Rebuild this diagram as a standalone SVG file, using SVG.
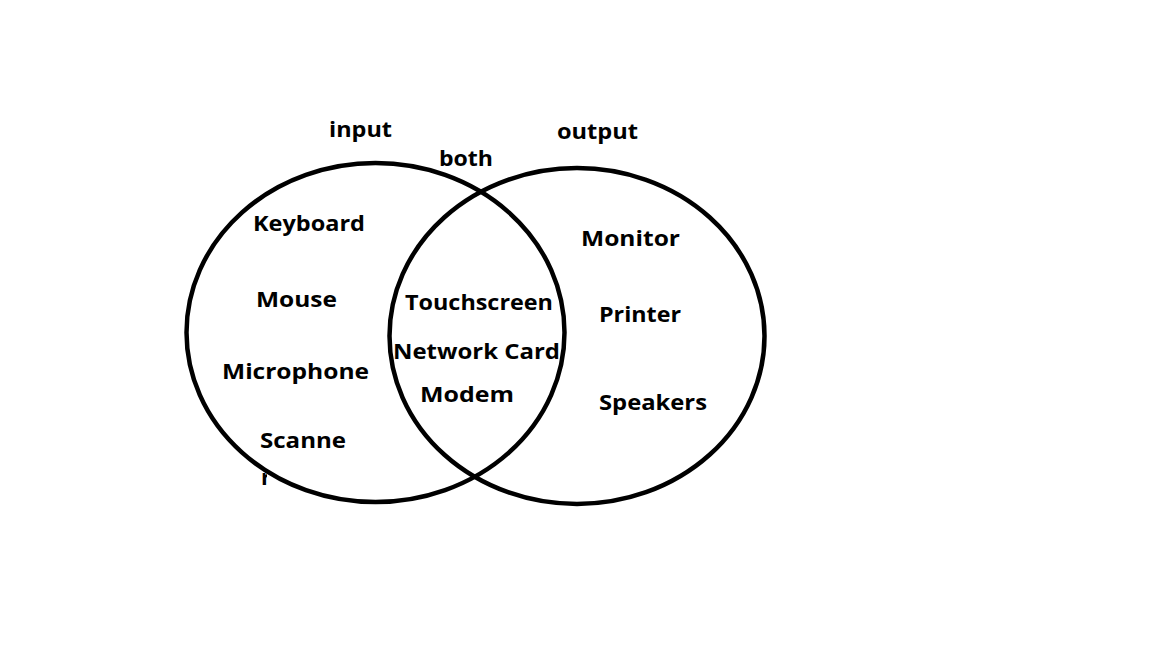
<svg xmlns="http://www.w3.org/2000/svg" width="1152" height="648" viewBox="0 0 1152 648">
<style>
  .lbl { font-family: "Open Sans", "Noto Sans", "Liberation Sans", sans-serif; font-weight: bold; font-size: 22px; fill: #000; }
  .set { fill: none; stroke: #000; stroke-width: 4.5; }
</style>
<defs>
  <clipPath id="rclip"><rect x="255" y="460" width="12" height="40"/></clipPath>
</defs>
<rect width="1152" height="648" fill="#fff"/>
<g id="labels">
  <text class="lbl" x="329" y="137" textLength="63" lengthAdjust="spacingAndGlyphs">input</text>
  <text class="lbl" x="439" y="166" textLength="54" lengthAdjust="spacingAndGlyphs">both</text>
  <text class="lbl" x="557" y="139" textLength="81" lengthAdjust="spacingAndGlyphs">output</text>
</g>
<g id="input-items">
  <text class="lbl" x="253" y="231" textLength="112" lengthAdjust="spacingAndGlyphs">Keyboard</text>
  <text class="lbl" x="256" y="307" textLength="81" lengthAdjust="spacingAndGlyphs">Mouse</text>
  <text class="lbl" x="222" y="379" textLength="147" lengthAdjust="spacingAndGlyphs">Microphone</text>
  <text class="lbl" x="260" y="448" textLength="86" lengthAdjust="spacingAndGlyphs">Scanne</text>
  <text class="lbl" x="261" y="485" clip-path="url(#rclip)">r</text>
</g>
<g id="both-items">
  <text class="lbl" x="405" y="310" textLength="148" lengthAdjust="spacingAndGlyphs">Touchscreen</text>
  <text class="lbl" x="393" y="359" textLength="167" lengthAdjust="spacingAndGlyphs">Network Card</text>
  <text class="lbl" x="420" y="402" textLength="94" lengthAdjust="spacingAndGlyphs">Modem</text>
</g>
<g id="output-items">
  <text class="lbl" x="581" y="246" textLength="99" lengthAdjust="spacingAndGlyphs">Monitor</text>
  <text class="lbl" x="599" y="322" textLength="82" lengthAdjust="spacingAndGlyphs">Printer</text>
  <text class="lbl" x="599" y="410" textLength="108" lengthAdjust="spacingAndGlyphs">Speakers</text>
</g>
<g id="input-set">
  <ellipse class="set" cx="375.5" cy="332.5" rx="189" ry="169.5"/>
</g>
<g id="output-set">
  <ellipse class="set" cx="577" cy="336" rx="187.5" ry="168"/>
</g>
</svg>
